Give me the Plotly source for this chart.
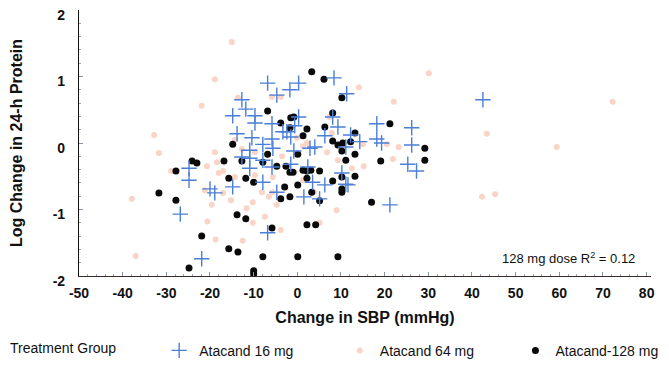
import plotly.graph_objects as go

# Atacand 16 mg (blue crosses)
x16 = [-24.8, -24.8, -26.8, -20.0, -18.9, -21.9, -6.8, 0.3, 8.4, -1.7, -4.7, 11.3, -12.7, -11.8,
       -14.8, -9.7, -9.7, 0.3, 8.1, -5.8, -0.6, 9.3, 18.2, 26.2, -13.8, -10.4, -3.3, -2.4, -1.5,
       -5.8, 6.3, -7.9, 12.2, 14.3, 18.2, 19.3, 26.2, -10.9, -5.6, -0.8, 2.9, 4.0, 11.1, -12.7,
       -10.9, -10.9, -7.9, -1.5, -5.8, 2.4, 10.2, 25.3, 27.3, -14.8, -7.9, 3.5, 6.3, 11.1, 11.6,
       -4.7, 1.5, 5.1, 21.2, -6.8, 42.5]
y16 = [-0.38, -0.56, -1.07, -0.69, -0.75, -1.74, 0.90, 0.90, 0.98, 0.80, 0.72, 0.74, 0.65, 0.51,
       0.41, 0.41, 0.30, 0.39, 0.39, 0.29, 0.26, 0.24, 0.29, 0.23, 0.14, 0.08, 0.17, 0.17, 0.09,
       0.06, 0.11, -0.02, 0.12, 0.02, 0.06, 0.00, -0.03, -0.11, -0.08, -0.12, -0.08, -0.06, -0.06, -0.21,
       -0.23, -0.38, -0.26, -0.32, -0.36, -0.36, -0.45, -0.32, -0.42, -0.66, -0.59, -0.59, -0.63, -0.62, -0.63,
       -0.74, -0.81, -0.84, -0.93, -1.35, 0.65]

# Atacand 64 mg (pale pink dots)
x64 = [-15.0, -18.9, -21.9, -32.8, -31.7, -28.9, -37.9, -37.0, -20.7, -18.9, -18.4, -18.0, 14.1,
       30.1, 22.1, -5.8, -3.8, -13.6, 7.4, -14.3, -12.7, -9.7, -3.5, 1.3, 6.8, 15.0, 20.5, 23.2,
       21.9, 15.2, -17.0, -14.3, -9.7, -5.6, -8.1, -5.6, -10.2, -6.5, -11.6, -4.7, 9.0, -7.4, 5.1,
       -10.2, -3.8, -12.5, -17.0, -15.2, -0.1, 2.2, -1.0, 7.9, 9.3, 12.5, -0.6, 1.3, 3.8, -21.2,
       -19.6, -20.6, -18.7, 72.2, 43.4, 59.4, 42.3, 45.3]
y64 = [1.52, 0.96, 0.56, 0.12, -0.15, -0.42, -0.84, -1.70, -0.35, -0.14, -0.29, -0.45, 0.84,
       1.05, 0.62, 0.69, 0.69, 0.68, 0.39, 0.05, -0.09, -0.14, -0.20, -0.05, -0.14, -0.02, -0.02, -0.06,
       -0.24, -0.35, -0.42, -0.51, -0.48, -0.51, -0.74, -0.74, -0.89, -0.81, -0.98, -0.93, -1.01, -1.11, -1.20,
       -1.20, -1.31, -1.47, -0.75, -0.86, 0.08, 0.00, 0.24, 0.15, -0.26, -0.38, -0.44, -0.56, -0.74, -0.71,
       -0.93, -1.18, -1.45, 0.62, 0.14, -0.06, -0.81, -0.77]

# Atacand-128 mg (black dots)
x128 = [-24.1, -23.0, -27.8, -31.7, -27.8, -21.9, -24.8, 3.3, 6.1, 10.2, -6.8, 8.1, -1.5, -0.8,
        -3.8, -1.7, 2.2, 6.3, 21.2, 13.2, 1.3, -14.8, 8.1, 9.3, 10.4, 12.2, 29.2, -6.8, 0.1, 10.2,
        13.2, -16.8, -12.7, -7.9, 11.1, 19.1, 29.2, -4.7, -2.6, -1.7, -1.0, 1.3, 2.2, 3.1, 5.1, 2.2,
        10.2, 13.2, -15.7, -11.8, -10.0, 8.1, -2.9, 0.1, 3.3, 10.2, 10.2, -3.8, -1.7, 5.1, 17.0,
        -13.8, -11.8, -5.8, 2.2, 4.2, -15.7, -13.6, -7.9, 0.1, 9.3, -10.0, -10.0]
y128 = [-0.27, -0.30, -0.42, -0.75, -0.86, -1.40, -1.88, 1.07, 0.96, 0.68, 0.48, 0.45, 0.38, 0.39,
        0.30, 0.23, 0.21, 0.24, 0.29, 0.15, 0.11, -0.02, 0.03, -0.03, 0.00, 0.02, -0.08, -0.17, -0.17, -0.12,
        -0.17, -0.27, -0.27, -0.29, -0.26, -0.27, -0.26, -0.35, -0.35, -0.44, -0.44, -0.41, -0.42, -0.41, -0.42, -0.53,
        -0.51, -0.50, -0.53, -0.53, -0.59, -0.57, -0.66, -0.63, -0.74, -0.69, -0.74, -0.84, -0.81, -0.87, -0.89,
        -1.08, -1.14, -1.28, -1.23, -1.23, -1.59, -1.64, -1.71, -1.71, -1.71, -1.92, -1.97]

x_ticks = [-50, -40, -30, -20, -10, 0, 10, 20, 30, 40, 50, 60, 70, 80]
y_ticks = [-2, -1, 0, 1, 2]

FONT = "Liberation Sans, Arial, sans-serif"

fig = go.Figure()
fig.add_trace(go.Scatter(x=x64, y=y64, mode="markers", name="Atacand 64 mg", legend="legend2",
                         marker=dict(symbol="circle", size=6, color="#f9d4c7",
                                     line=dict(width=0))))
fig.add_trace(go.Scatter(x=x128, y=y128, mode="markers", name="Atacand-128 mg", legend="legend3",
                         marker=dict(symbol="circle", size=7, color="#0a0a0a",
                                     line=dict(width=0))))
fig.add_trace(go.Scatter(x=x16, y=y16, mode="markers", name="Atacand 16 mg", legend="legend",
                         marker=dict(symbol="cross-thin", size=11, color="#4a7fd8",
                                     line=dict(width=1.4, color="#4a7fd8"))))

fig.add_annotation(x=0.975, y=0.068, xref="paper", yref="paper", xanchor="right", yanchor="middle",
                   text="128 mg dose R<sup>2</sup> = 0.12", showarrow=False,
                   font=dict(family=FONT, size=13, color="#111"))

leg_common = dict(orientation="h", yanchor="top", y=-0.221, xanchor="left",
                  font=dict(size=14, color="#111", family=FONT),
                  bgcolor="rgba(0,0,0,0)")

# the page body adds an 8 px margin, so the figure is 8 px smaller than the window
fig.update_layout(
    width=661, height=357,
    margin=dict(l=71, r=18, t=2, b=89, autoexpand=False),
    plot_bgcolor="white", paper_bgcolor="white",
    font=dict(family=FONT, color="#111"),
    showlegend=True,
    legend=dict(x=-0.124,
                title=dict(text="Treatment Group         ", side="left",
                           font=dict(size=14, color="#111", family=FONT)),
                **leg_common),
    legend2=dict(x=0.456, **leg_common),
    legend3=dict(x=0.763, **leg_common),
    xaxis=dict(range=[-50, 81], tickvals=x_ticks, ticktext=[str(v) for v in x_ticks],
               automargin=False,
               showgrid=False, zeroline=False, showline=True, linecolor="#3a2a2a", linewidth=1.2,
               ticks="inside", ticklen=4, tickcolor="#8a94a6", ticklabelstandoff=4,
               minor=dict(dtick=2, ticks="inside", ticklen=2, tickcolor="#9aa3b3"),
               tickfont=dict(size=14, family=FONT, color="#111", weight="bold"),
               title=dict(text="<b>Change in SBP (mmHg)</b>", standoff=11,
                          font=dict(size=16, color="#111", family=FONT))),
    yaxis=dict(range=[-2, 2], tickvals=y_ticks, ticktext=[str(v) for v in y_ticks],
               automargin=False,
               showgrid=False, zeroline=False, showline=True, linecolor="#111", linewidth=1.2,
               ticks="inside", ticklen=4, tickcolor="#8a94a6", ticklabelstandoff=10,
               ticklabelshift=5, ticklabeloverflow="allow",
               minor=dict(dtick=0.2, ticks="inside", ticklen=2, tickcolor="#9aa3b3"),
               tickfont=dict(size=14, family=FONT, color="#111", weight="bold"),
               title=dict(text="<b>Log Change in 24-h Protein</b>", standoff=36,
                          font=dict(size=16, color="#111", family=FONT))),
)

fig.write_html("out.html")
